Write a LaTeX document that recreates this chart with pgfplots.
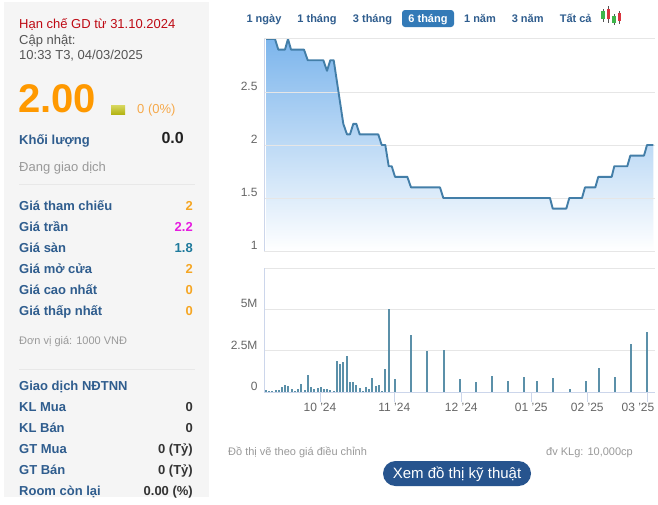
\documentclass[border=0pt]{standalone}
\usepackage{fontspec}
\setmainfont{Liberation Sans}
\usepackage{pgfplots}
\pgfplotsset{compat=1.18}
\definecolor{lab}{HTML}{2F5D8E}
\definecolor{org}{HTML}{F5A623}
\definecolor{grd}{HTML}{E6E6E6}
\definecolor{axl}{HTML}{CCD6EB}
\definecolor{ttxt}{HTML}{666666}
\definecolor{panel}{HTML}{F5F5F5}
\definecolor{areatop}{HTML}{7CB5EC}
\definecolor{pline}{HTML}{437EA8}
\definecolor{vbar}{HTML}{5B90A9}
\definecolor{redt}{HTML}{BE0A14}
\definecolor{gr5}{HTML}{555555}
\definecolor{big}{HTML}{FF9900}
\definecolor{swa}{HTML}{D8D860}
\definecolor{swb}{HTML}{B4B414}
\definecolor{pct}{HTML}{F5A94A}
\definecolor{blk}{HTML}{222222}
\definecolor{gr9}{HTML}{999999}
\definecolor{sep}{HTML}{E8E8E8}
\definecolor{mag}{HTML}{E61CE0}
\definecolor{teal}{HTML}{1F7A9C}
\definecolor{gr3}{HTML}{333333}
\definecolor{tabb}{HTML}{337AB7}
\definecolor{btn}{HTML}{27548E}
\definecolor{cg}{HTML}{3DB54A}
\definecolor{cr}{HTML}{D9343E}
\newcommand{\fs}[1]{\fontsize{#1}{#1}\selectfont}
\newcommand{\Ll}[4][lab]{\node[anchor=base west,inner sep=0pt,text=#1] at (#2,#3) {#4};}
\newcommand{\Lr}[4][lab]{\node[anchor=base east,inner sep=0pt,text=#1] at (#2,#3) {#4};}
\newcommand{\Lc}[4][lab]{\node[anchor=base,inner sep=0pt,text=#1] at (#2,#3) {#4};}
\begin{document}
\begin{tikzpicture}[x=1pt,y=-1pt]
\path[use as bounding box,fill=white] (0,0) rectangle (658,504);
\fill[panel] (4,2) rectangle (209,497);
% upper axis: price area
\begin{axis}[at={(264pt,-251pt)},anchor=south west,scale only axis,width=391pt,height=212pt,
  xmin=264,xmax=655,ymin=1,ymax=3,axis on top,
  axis line style={draw=none},xtick=\empty,
  ytick={1,1.5,2,2.5},yticklabels={1,1.5,2,2.5},
  ymajorgrids,grid style={grd,line width=0.8pt},major tick length=0pt,
  yticklabel style={font=\fs{12},text=ttxt,yshift=5.5pt,xshift=-3pt}]
\addplot[draw=none,top color=areatop,bottom color=white] coordinates {
(266,3.0)(275,3.0)(278.3,2.9)(285,2.9)(288,3.0)(291,2.9)(304,2.9)(307.7,2.8)(323.3,2.8)(327,2.7)(330.3,2.8)(333.7,2.8)(343.3,2.2)(347,2.1)(350,2.1)(353.3,2.2)(356.3,2.2)(359.7,2.1)(378.3,2.1)(381.7,2.0)(385.3,2.0)(388.7,1.8)(391.7,1.8)(395,1.7)(407.3,1.7)(411,1.6)(440,1.6)(443.3,1.5)(550,1.5)(552.7,1.4)(566.3,1.4)(569.3,1.5)(582,1.5)(585,1.6)(595.3,1.6)(598.3,1.7)(611.7,1.7)(614.3,1.8)(627.3,1.8)(630.3,1.9)(644,1.9)(647,2.0)(653.3,2.0)
} \closedcycle;
\end{axis}
% upper axis: price line, above the grid
\begin{axis}[at={(264pt,-251pt)},anchor=south west,scale only axis,width=391pt,height=212pt,
  xmin=264,xmax=655,ymin=1,ymax=3,hide axis,clip=false]
\addplot[line width=1.9pt,color=pline,line join=round,no marks] coordinates {
(266,3.0)(275,3.0)(278.3,2.9)(285,2.9)(288,3.0)(291,2.9)(304,2.9)(307.7,2.8)(323.3,2.8)(327,2.7)(330.3,2.8)(333.7,2.8)(343.3,2.2)(347,2.1)(350,2.1)(353.3,2.2)(356.3,2.2)(359.7,2.1)(378.3,2.1)(381.7,2.0)(385.3,2.0)(388.7,1.8)(391.7,1.8)(395,1.7)(407.3,1.7)(411,1.6)(440,1.6)(443.3,1.5)(550,1.5)(552.7,1.4)(566.3,1.4)(569.3,1.5)(582,1.5)(585,1.6)(595.3,1.6)(598.3,1.7)(611.7,1.7)(614.3,1.8)(627.3,1.8)(630.3,1.9)(644,1.9)(647,2.0)(653.3,2.0)
};
\end{axis}
% lower axis: volume
\begin{axis}[at={(264pt,-392pt)},anchor=south west,scale only axis,width=391pt,height=124pt,
  xmin=264,xmax=655,ymin=0,ymax=7.5,
  axis line style={draw=none},
  xtick={320,394.3,461.3,531.3,587.3,647.3},
  xticklabels={10 '24,11 '24,12 '24,01 '25,02 '25,{}},
  x tick label style={font=\fs{12},text=ttxt,yshift=-8pt},
  ytick={0,2.5,5},yticklabels={0,2.5M,5M},
  ymajorgrids,grid style={grd,line width=0.8pt},
  major tick length=0pt,
  yticklabel style={font=\fs{12},text=ttxt,yshift=5.5pt,xshift=-3pt}]
\addplot[ycomb,line width=1.9pt,color=vbar,no marks] coordinates {
(265.7,.1)(268.7,.06)(271.7,.04)(275.7,.1)(278.7,.1)(282,.28)(285,.4)(288,.36)(292,.18)(295,.06)(298,.18)(301,.46)(305,.12)(308,1.03)(311,.28)(314,.18)(318,.22)(321,.3)(324,.2)(327,.18)(330,.12)(334,.06)(337,1.9)(340,1.7)(343,1.8)(347,2.15)(350,.6)(353,.6)(356,.42)(360,.24)(363,.04)(366,.3)(369,.18)(372,.85)(376,.36)(379,.42)(382,.06)(385,1.4)(389,5.0)(395,.8)(411,3.45)(427,2.48)(444,2.54)(460,.8)(476,.6)(492,.97)(508,.66)(524,.9)(537,.66)(553,.85)(570,.18)(586,.66)(599,1.45)(615,.9)(631,2.9)(647,3.62)
};
\end{axis}
\node[anchor=base,inner sep=0pt,text=ttxt,font=\fs{12}] at (638,411) {03 '25};
\foreach \tx in {320,394.3,461.3,531.3,587.3,647.3}{\draw[axl,line width=0.8pt] (\tx,392) -- (\tx,402);}
% chart frame lines
\draw[grd,line width=0.8pt] (264,38.7) -- (655,38.7);
\draw[grd,line width=0.8pt] (264,268) -- (655,268);
\draw[axl,line width=0.8pt] (264,39) -- (264,251);
\draw[axl,line width=0.8pt] (264,268) -- (264,392);
\draw[axl,line width=0.8pt] (264,392) -- (655,392);
% left panel
\fs{13}
\Ll[redt]{19}{28}{Hạn chế GD từ 31.10.2024}
\Ll[gr5]{19}{44}{Cập nhật:}
\Ll[gr5]{19}{59}{10:33 T3, 04/03/2025}
\node[anchor=base west,inner sep=0pt,text=big,font=\fs{40}\bfseries] at (18,112.7) {2.00};
\shade[top color=swa,bottom color=swb] (111,105) rectangle (125,114);
\Ll[pct]{137}{113}{0 (0\%)}
\Ll{19}{144}{\bfseries Khối lượng}
\node[anchor=base east,inner sep=0pt,font=\fs{16}\bfseries,text=blk] at (184,143) {0.0};
\Ll[gr9]{19}{171}{Đang giao dịch}
\draw[sep,line width=0.8pt] (19,184.5) -- (195,184.5);
\Ll{19}{210}{\bfseries Giá tham chiếu}
\Ll{19}{231}{\bfseries Giá trần}
\Ll{19}{252}{\bfseries Giá sàn}
\Ll{19}{273}{\bfseries Giá mở cửa}
\Ll{19}{294}{\bfseries Giá cao nhất}
\Ll{19}{315}{\bfseries Giá thấp nhất}
\Lr[org]{193}{210}{\bfseries 2}
\Lr[mag]{193}{231}{\bfseries 2.2}
\Lr[teal]{193}{252}{\bfseries 1.8}
\Lr[org]{193}{273}{\bfseries 2}
\Lr[org]{193}{294}{\bfseries 0}
\Lr[org]{193}{315}{\bfseries 0}
\node[anchor=base west,inner sep=0pt,text=gr9,font=\fs{11}] at (19,344) {Đơn vị giá: 1000 VNĐ};
\draw[sep,line width=0.8pt] (19,369) -- (195,369);
\Ll{19}{390}{\bfseries Giao dịch NĐTNN}
\Ll{19}{411}{\bfseries KL Mua}
\Ll{19}{432}{\bfseries KL Bán}
\Ll{19}{453}{\bfseries GT Mua}
\Ll{19}{474}{\bfseries GT Bán}
\Ll{19}{495}{\bfseries Room còn lại}
\Lr[gr3]{193}{411}{\bfseries 0}
\Lr[gr3]{193}{432}{\bfseries 0}
\Lr[gr3]{193}{453}{\bfseries 0 (Tỷ)}
\Lr[gr3]{193}{474}{\bfseries 0 (Tỷ)}
\Lr[gr3]{193}{495}{\bfseries 0.00 (\%)}
% tabs
\fs{11}
\fill[tabb,rounded corners=3pt] (402,10) rectangle (454,27);
\Lc{264}{22}{\bfseries 1 ngày}
\Lc{317}{22}{\bfseries 1 tháng}
\Lc{372.5}{22}{\bfseries 3 tháng}
\Lc[white]{428}{22}{\bfseries 6 tháng}
\Lc{480}{22}{\bfseries 1 năm}
\Lc{527.7}{22}{\bfseries 3 năm}
\Lc{575.7}{22}{\bfseries Tất cả}
% candlestick icon
\foreach \xx/\ya/\yb/\yc/\yd/\cc in {603/9/11/19/22/cg,608.5/6/9/19/23/cr,614/14/16/23/25/cg,619.5/11/13/21/24/cr}{
  \draw[gr5,line width=0.5pt] (\xx,\ya) -- (\xx,\yd);
  \fill[\cc] (\xx-1.8,\yb) rectangle (\xx+1.8,\yc);
}
% footer
\node[anchor=base west,inner sep=0pt,text=gr9,font=\fs{11}] at (228,455) {Đồ thị vẽ theo giá điều chỉnh};
\node[anchor=base east,inner sep=0pt,text=gr9,font=\fs{11}] at (633,455) {đv KLg: 10,000cp};
\fill[btn,rounded corners=12.5pt] (383,461) rectangle (531,486);
\node[anchor=base,inner sep=0pt,text=white,font=\fs{15}] at (457,478.5) {Xem đồ thị kỹ thuật};
\end{tikzpicture}
\end{document}
